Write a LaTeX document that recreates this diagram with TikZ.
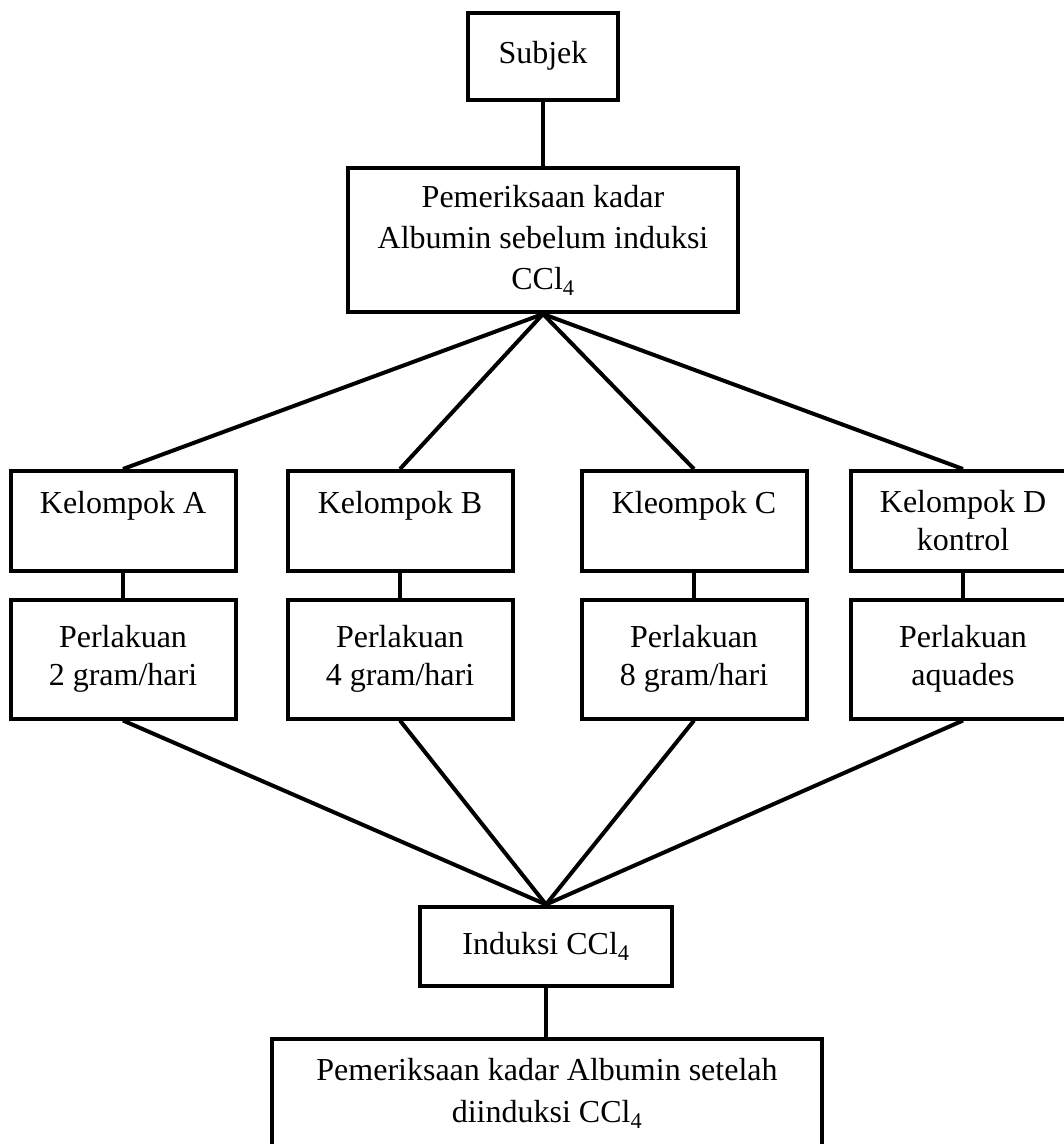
\documentclass[tikz,border=0pt]{standalone}
\usepackage{fontspec}
\setmainfont{Liberation Serif}
\usepackage{tikz}

\begin{document}
\begin{tikzpicture}[x=1pt,y=-1pt,
  kotak/.style={draw,line width=4pt,align=center,inner sep=0pt,font=\fontsize{32}{38}\selectfont},
  garis/.style={line width=4pt}]
 \useasboundingbox (0,0) rectangle (1064,1144);
 \clip (0,0) rectangle (1064,1144);

 \node [kotak,minimum width=150,minimum height=87] (subjek) at (543,56) {Subjek};
 \node [kotak,font=\fontsize{32}{41}\selectfont,minimum width=390,minimum height=144] (pra) at (543,240)
   {Pemeriksaan kadar\\Albumin sebelum induksi\\CCl\textsubscript{4}};
 \node [kotak,minimum width=252,minimum height=79] (induksi) at (546,946) {Induksi CCl\textsubscript{4}};
 \node [kotak,font=\fontsize{32}{42}\selectfont,minimum width=550,minimum height=144] (akhir) at (547,1111)
   {Pemeriksaan kadar Albumin setelah\\diinduksi CCl\textsubscript{4}\\~};

 \draw [garis] (subjek) -- (pra);
 \foreach \n/\x/\kel/\per in {A/123/{Kelompok A\\~}/{Perlakuan\\2 gram/hari},
                              B/400/{Kelompok B\\~}/{Perlakuan\\4 gram/hari},
                              C/694/{Kleompok C\\~}/{Perlakuan\\8 gram/hari},
                              D/963/{Kelompok D\\kontrol}/{Perlakuan\\aquades}}
   {\node [kotak,minimum width=225,minimum height=100] (kel\n) at (\x,521) {\kel};
    \node [kotak,minimum width=225,minimum height=119] (per\n) at (\x,659) {\per};
    \draw [garis] (pra.south) -- (kel\n.north);
    \draw [garis] (kel\n) -- (per\n);
    \draw [garis] (per\n.south) -- (induksi.north);}
 \draw [garis] (induksi.south) -- (induksi.south |- akhir.north);
\end{tikzpicture}
\end{document}
